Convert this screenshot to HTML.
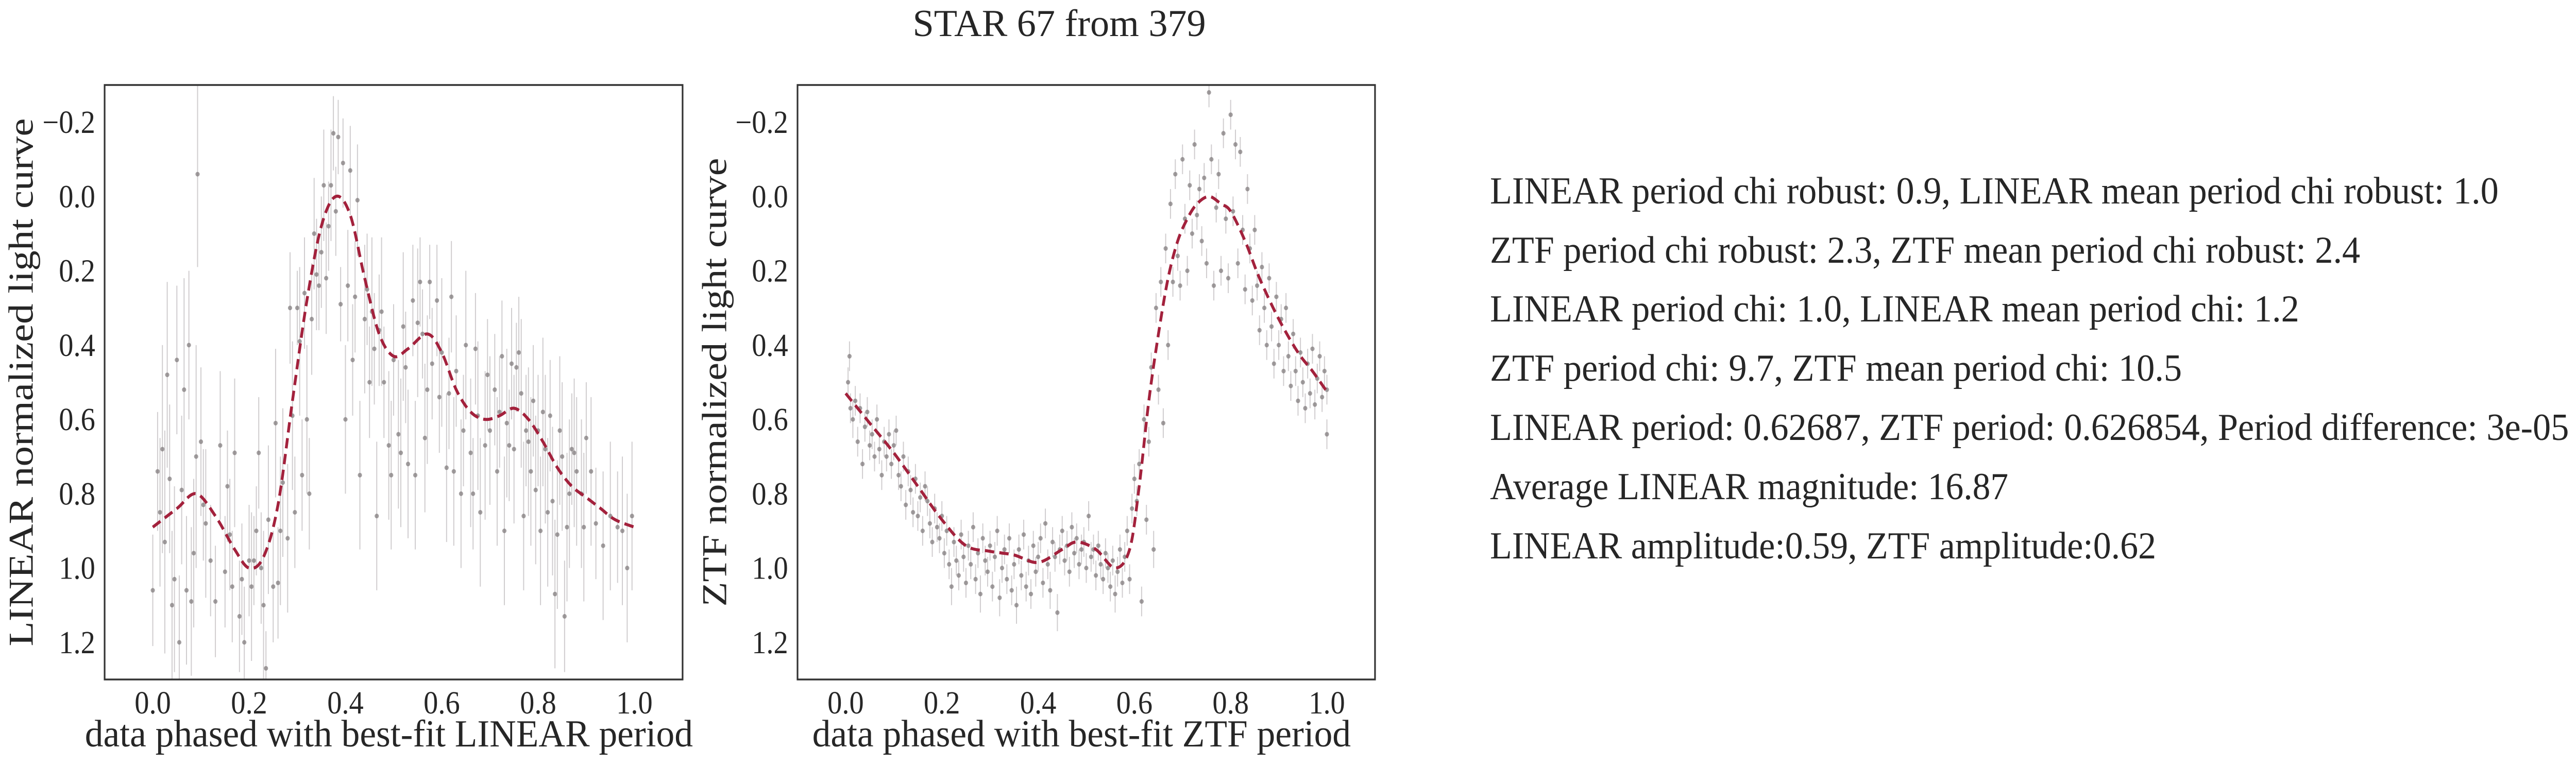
<!DOCTYPE html>
<html><head><meta charset="utf-8"><style>
html,body{margin:0;padding:0;background:#fff;overflow:hidden;width:100%;height:100%;}
svg{display:block;font-family:"Liberation Serif",serif;width:100vw;height:100vh;}
</style></head><body>
<svg id="fig" viewBox="0 0 5491 1485" preserveAspectRatio="none" xmlns="http://www.w3.org/2000/svg">
<rect width="5491" height="1485" fill="#fff"/>
<text x="2258" y="70" font-size="74" text-anchor="middle" fill="#262626" textLength="625" lengthAdjust="spacingAndGlyphs">STAR 67 from 379</text>
<g id="left"></g>
<g id="right"></g>
<g font-size="74" fill="#262626">
<text x="3176" y="395" textLength="2150" lengthAdjust="spacingAndGlyphs">LINEAR period chi robust: 0.9, LINEAR mean period chi robust: 1.0</text>
<text x="3176" y="510" textLength="1855" lengthAdjust="spacingAndGlyphs">ZTF period chi robust: 2.3, ZTF mean period chi robust: 2.4</text>
<text x="3176" y="624" textLength="1725" lengthAdjust="spacingAndGlyphs">LINEAR period chi: 1.0, LINEAR mean period chi: 1.2</text>
<text x="3176" y="739" textLength="1475" lengthAdjust="spacingAndGlyphs">ZTF period chi: 9.7, ZTF mean period chi: 10.5</text>
<text x="3176" y="854" textLength="2300" lengthAdjust="spacingAndGlyphs">LINEAR period: 0.62687, ZTF period: 0.626854, Period difference: 3e-05</text>
<text x="3176" y="969" textLength="1105" lengthAdjust="spacingAndGlyphs">Average LINEAR magnitude: 16.87</text>
<text x="3176" y="1084" textLength="1420" lengthAdjust="spacingAndGlyphs">LINEAR amplitude:0.59, ZTF amplitude:0.62</text>
</g>
</svg>
<script>
const xTicks = [0.0, 0.2, 0.4, 0.6, 0.8, 1.0];
const xTickLabels = ["0.0", "0.2", "0.4", "0.6", "0.8", "1.0"];
const yTicks = [-0.2, 0.0, 0.2, 0.4, 0.6, 0.8, 1.0, 1.2];
const yTickLabels = ["\u22120.2", "0.0", "0.2", "0.4", "0.6", "0.8", "1.0", "1.2"];

const linearModelPhase = [0.0,0.05,0.09,0.13,0.17,0.2,0.23,0.26,0.29,0.32,0.35,0.38,0.41,0.44,0.47,0.5,0.53,0.57,0.6,0.63,0.66,0.69,0.72,0.75,0.78,0.81,0.84,0.87,0.9,0.93,0.96,1.0];
const linearModelMag = [0.89,0.84,0.80,0.86,0.95,1.0,0.97,0.83,0.55,0.28,0.08,0.0,0.05,0.22,0.37,0.43,0.41,0.37,0.42,0.52,0.58,0.60,0.59,0.57,0.60,0.66,0.73,0.78,0.81,0.84,0.87,0.89];

const ztfModelPhase = [0.0,0.05,0.1,0.15,0.2,0.25,0.3,0.35,0.4,0.45,0.48,0.52,0.56,0.59,0.61,0.63,0.65,0.67,0.69,0.71,0.73,0.755,0.78,0.8,0.83,0.86,0.9,0.94,0.97,1.0];
const ztfModelMag = [0.53,0.61,0.69,0.78,0.87,0.94,0.955,0.965,0.985,0.95,0.93,0.95,1.0,0.95,0.78,0.55,0.37,0.22,0.12,0.06,0.02,0.0,0.02,0.04,0.12,0.22,0.33,0.42,0.47,0.525];

const linearPoints = [[0.00,1.06,0.15],[0.01,0.74,0.16],[0.015,0.85,0.2],[0.02,0.68,0.28],[0.025,0.93,0.3],[0.03,0.48,0.25],[0.035,0.76,0.2],[0.04,1.10,0.2],[0.045,1.03,0.25],[0.05,0.44,0.2],[0.055,1.20,0.18],[0.06,0.79,0.2],[0.065,0.52,0.3],[0.07,1.06,0.2],[0.075,0.40,0.2],[0.08,1.09,0.2],[0.085,0.96,0.2],[0.09,0.70,0.3],[0.093,-0.06,0.25],[0.1,0.66,0.2],[0.105,0.83,0.15],[0.11,0.88,0.2],[0.12,0.98,0.15],[0.13,1.09,0.15],[0.14,0.67,0.2],[0.15,1.01,0.15],[0.155,0.78,0.15],[0.16,0.91,0.15],[0.165,1.05,0.15],[0.17,0.69,0.2],[0.18,1.13,0.15],[0.185,1.03,0.15],[0.19,1.20,0.15],[0.2,0.98,0.15],[0.205,1.05,0.2],[0.21,0.98,0.12],[0.215,0.90,0.12],[0.22,0.69,0.15],[0.225,1.00,0.15],[0.23,1.10,0.2],[0.235,1.27,0.1],[0.24,0.87,0.2],[0.25,1.05,0.15],[0.255,0.61,0.2],[0.26,1.04,0.15],[0.265,0.90,0.2],[0.27,0.77,0.2],[0.28,0.92,0.2],[0.285,0.30,0.15],[0.29,0.59,0.2],[0.295,0.85,0.15],[0.3,0.30,0.1],[0.305,0.39,0.2],[0.31,0.75,0.15],[0.315,0.26,0.15],[0.32,0.60,0.2],[0.325,0.80,0.15],[0.33,0.33,0.15],[0.335,0.10,0.15],[0.34,0.21,0.15],[0.345,0.24,0.12],[0.35,0.15,0.15],[0.355,-0.03,0.15],[0.36,0.22,0.15],[0.365,0.08,0.12],[0.37,-0.03,0.15],[0.375,-0.17,0.1],[0.38,0.04,0.12],[0.385,-0.16,0.1],[0.39,0.29,0.1],[0.395,-0.09,0.12],[0.4,0.60,0.2],[0.405,0.24,0.15],[0.41,-0.07,0.12],[0.415,0.44,0.15],[0.42,0.27,0.15],[0.425,0.01,0.15],[0.43,0.75,0.2],[0.44,0.33,0.2],[0.445,0.25,0.15],[0.45,0.50,0.15],[0.455,0.31,0.2],[0.46,0.41,0.15],[0.465,0.86,0.2],[0.47,0.36,0.15],[0.475,0.31,0.2],[0.48,0.50,0.15],[0.49,0.67,0.2],[0.495,0.75,0.2],[0.5,0.44,0.15],[0.51,0.64,0.2],[0.515,0.69,0.2],[0.52,0.35,0.2],[0.525,0.46,0.15],[0.53,0.72,0.2],[0.54,0.28,0.15],[0.545,0.75,0.2],[0.55,0.34,0.2],[0.555,0.23,0.12],[0.56,0.37,0.12],[0.565,0.65,0.2],[0.57,0.52,0.2],[0.575,0.23,0.1],[0.58,0.45,0.15],[0.59,0.28,0.15],[0.595,0.54,0.15],[0.6,0.42,0.2],[0.61,0.73,0.2],[0.615,0.53,0.15],[0.62,0.27,0.15],[0.625,0.74,0.2],[0.63,0.47,0.15],[0.64,0.80,0.2],[0.645,0.63,0.15],[0.65,0.40,0.2],[0.66,0.69,0.2],[0.665,0.80,0.15],[0.67,0.41,0.15],[0.675,0.59,0.2],[0.68,0.85,0.2],[0.69,0.67,0.2],[0.695,0.48,0.15],[0.7,0.63,0.2],[0.71,0.52,0.15],[0.715,0.74,0.2],[0.72,0.58,0.15],[0.725,0.43,0.15],[0.73,0.90,0.2],[0.735,0.61,0.2],[0.74,0.67,0.15],[0.745,0.45,0.15],[0.75,0.68,0.2],[0.755,0.46,0.12],[0.76,0.42,0.15],[0.765,0.53,0.2],[0.77,0.86,0.2],[0.775,0.63,0.15],[0.78,0.66,0.2],[0.785,0.74,0.2],[0.79,0.55,0.15],[0.795,0.79,0.2],[0.8,0.63,0.15],[0.805,0.90,0.2],[0.81,0.58,0.2],[0.815,0.68,0.2],[0.82,0.85,0.2],[0.825,0.59,0.15],[0.83,0.82,0.2],[0.835,1.07,0.2],[0.84,0.91,0.2],[0.845,0.63,0.2],[0.85,0.70,0.2],[0.855,1.13,0.15],[0.86,0.89,0.2],[0.865,0.80,0.2],[0.87,0.68,0.15],[0.875,0.69,0.2],[0.88,0.74,0.2],[0.89,0.80,0.2],[0.895,0.89,0.2],[0.9,0.65,0.15],[0.91,0.74,0.2],[0.92,0.88,0.15],[0.935,0.94,0.2],[0.95,0.86,0.2],[0.965,0.89,0.15],[0.975,0.90,0.2],[0.985,1.00,0.2],[0.995,0.86,0.2]];

const ztfPoints = [[0.005,0.50,.04],[0.008,0.43,.04],[0.01,0.57,.04],[0.015,0.60,.05],[0.02,0.55,.04],[0.025,0.66,.04],[0.03,0.57,.04],[0.035,0.72,.04],[0.04,0.62,.04],[0.045,0.58,.04],[0.05,0.67,.04],[0.055,0.64,.04],[0.06,0.70,.04],[0.065,0.60,.04],[0.07,0.68,.04],[0.075,0.75,.04],[0.08,0.66,.04],[0.085,0.70,.04],[0.09,0.64,.04],[0.095,0.72,.04],[0.1,0.67,.04],[0.105,0.63,.04],[0.11,0.75,.04],[0.115,0.78,.04],[0.12,0.70,.04],[0.125,0.83,.04],[0.13,0.74,.04],[0.135,0.79,.04],[0.14,0.85,.04],[0.145,0.76,.04],[0.15,0.86,.04],[0.155,0.81,.04],[0.16,0.90,.04],[0.165,0.78,.04],[0.17,0.82,.04],[0.175,0.88,.04],[0.18,0.93,.04],[0.185,0.84,.04],[0.19,0.89,.04],[0.195,0.92,.04],[0.2,0.86,.04],[0.205,0.96,.04],[0.21,0.90,.04],[0.215,0.99,.04],[0.22,1.05,.05],[0.225,0.93,.04],[0.23,0.98,.04],[0.235,1.02,.04],[0.24,0.91,.04],[0.245,0.97,.04],[0.25,1.04,.04],[0.255,0.94,.04],[0.26,0.99,.04],[0.265,0.89,.04],[0.27,1.03,.04],[0.275,0.96,.04],[0.28,1.07,.05],[0.285,0.92,.04],[0.29,0.98,.04],[0.295,1.01,.04],[0.3,0.94,.04],[0.305,1.05,.04],[0.31,0.97,.04],[0.315,0.90,.04],[0.32,1.08,.05],[0.325,1.00,.04],[0.33,0.95,.04],[0.335,1.03,.04],[0.34,0.92,.04],[0.345,1.06,.04],[0.35,0.99,.04],[0.355,1.10,.05],[0.36,0.95,.04],[0.365,1.02,.04],[0.37,0.91,.04],[0.375,1.05,.04],[0.38,0.98,.04],[0.385,1.07,.04],[0.39,0.94,.04],[0.395,1.01,.04],[0.4,0.97,.04],[0.405,0.92,.04],[0.41,1.04,.04],[0.415,0.88,.04],[0.42,0.99,.04],[0.425,1.06,.05],[0.43,0.93,.04],[0.435,0.97,.04],[0.44,1.12,.05],[0.445,0.95,.04],[0.45,0.90,.04],[0.455,0.98,.04],[0.46,0.94,.04],[0.465,1.01,.04],[0.47,0.89,.04],[0.475,0.96,.04],[0.48,0.92,.04],[0.485,0.99,.04],[0.49,0.95,.04],[0.495,0.93,.04],[0.5,1.00,.04],[0.505,0.86,.04],[0.51,0.97,.04],[0.515,0.95,.04],[0.52,1.02,.04],[0.525,0.94,.04],[0.53,0.99,.04],[0.535,1.03,.04],[0.54,0.96,.04],[0.545,1.00,.04],[0.55,1.05,.04],[0.555,0.98,.04],[0.56,1.07,.05],[0.565,1.01,.04],[0.57,0.95,.04],[0.575,1.04,.04],[0.58,0.97,.04],[0.585,0.90,.04],[0.59,1.03,.04],[0.595,0.84,.04],[0.6,0.76,.04],[0.605,0.82,.04],[0.61,0.72,.04],[0.615,1.09,.04],[0.62,0.60,.04],[0.625,0.87,.04],[0.63,0.66,.04],[0.635,0.46,.04],[0.64,0.95,.05],[0.645,0.30,.04],[0.65,0.52,.04],[0.655,0.23,.04],[0.66,0.61,.04],[0.665,0.14,.04],[0.67,0.40,.04],[0.675,0.02,.04],[0.68,0.23,.04],[0.685,-0.06,.04],[0.69,0.16,.04],[0.695,0.24,.04],[0.7,-0.10,.04],[0.705,0.06,.04],[0.71,0.20,.04],[0.715,-0.03,.04],[0.72,0.10,.04],[0.725,-0.14,.04],[0.73,0.05,.04],[0.735,-0.02,.04],[0.74,0.12,.04],[0.745,-0.05,.04],[0.75,0.18,.04],[0.755,-0.28,.04],[0.76,-0.10,.04],[0.765,0.24,.04],[0.77,0.03,.04],[0.775,-0.06,.04],[0.78,0.20,.04],[0.785,-0.17,.04],[0.79,0.06,.04],[0.795,0.22,.04],[0.8,-0.22,.04],[0.805,0.04,.04],[0.81,-0.14,.04],[0.815,0.18,.04],[0.82,-0.12,.04],[0.825,0.09,.04],[0.83,0.25,.04],[0.835,-0.02,.04],[0.84,0.14,.04],[0.845,0.28,.04],[0.85,0.09,.04],[0.855,0.24,.04],[0.86,0.36,.04],[0.865,0.19,.04],[0.87,0.30,.04],[0.875,0.40,.04],[0.88,0.22,.04],[0.885,0.35,.04],[0.89,0.45,.04],[0.895,0.27,.04],[0.9,0.40,.04],[0.905,0.33,.04],[0.91,0.47,.04],[0.915,0.30,.04],[0.92,0.43,.04],[0.925,0.51,.04],[0.93,0.37,.04],[0.935,0.47,.04],[0.94,0.55,.04],[0.945,0.42,.04],[0.95,0.50,.04],[0.955,0.57,.04],[0.96,0.45,.04],[0.965,0.53,.04],[0.97,0.41,.04],[0.975,0.56,.04],[0.98,0.49,.04],[0.985,0.43,.04],[0.99,0.54,.04],[0.995,0.47,.04],[1.0,0.52,.04],[1.0,0.64,.04]];

const NS = "http://www.w3.org/2000/svg";
function mk(tag, attrs, parent) {
  const e = document.createElementNS(NS, tag);
  for (const k in attrs) e.setAttribute(k, attrs[k]);
  parent.appendChild(e);
  return e;
}
function smoothPath(pts) {
  let d = "M" + pts[0][0] + "," + pts[0][1];
  for (let i = 0; i < pts.length - 1; i++) {
    const p0 = pts[Math.max(0, i - 1)], p1 = pts[i], p2 = pts[i + 1], p3 = pts[Math.min(pts.length - 1, i + 2)];
    const c1x = p1[0] + (p2[0] - p0[0]) / 6, c1y = p1[1] + (p2[1] - p0[1]) / 6;
    const c2x = p2[0] - (p3[0] - p1[0]) / 6, c2y = p2[1] - (p3[1] - p1[1]) / 6;
    d += " C" + c1x + "," + c1y + " " + c2x + "," + c2y + " " + p2[0] + "," + p2[1];
  }
  return d;
}
function panel(gid, box, xlabel, xlabelLen, ylabel, ylabelX, ylabelLen, points, mPhase, mMag, prefix) {
  const g = document.getElementById(gid);
  const x0 = box.l, x1 = box.r, y0 = box.t, y1 = box.b;
  const xs = v => x0 + (v + 0.1) / 1.2 * (x1 - x0);
  const ys = v => y0 + (v + 0.3) / 1.6 * (y1 - y0);
  const clip = mk("clipPath", {id: gid + "-clip"}, g);
  mk("rect", {x: x0, y: y0, width: x1 - x0, height: y1 - y0}, clip);
  const data = mk("g", {"clip-path": "url(#" + gid + "-clip)"}, g);
  
  
  points.forEach(p => {
    const x = xs(p[0]);
    const eb = mk("line", {x1: x, x2: x, y1: ys(p[1] - p[2]), y2: ys(p[1] + p[2]), stroke: "#bdb9bb", "stroke-width": 2.2, opacity: 0.7}, data);
    
    
    const c = mk("circle", {cx: x, cy: ys(p[1]), r: 4.5, fill: "#7a7576", opacity: 0.7}, data);
    
    
  });
  const mp = mPhase.map((p, i) => [xs(p), ys(mMag[i])]);
  const path = mk("path", {d: smoothPath(mp), fill: "none", stroke: "#a3213c", "stroke-width": 6, "stroke-dasharray": "20 11"}, data);
  
  
  const frame = mk("rect", {x: x0, y: y0, width: x1 - x0, height: y1 - y0, fill: "none", stroke: "#333", "stroke-width": 3.5}, g);
  
  
  xTicks.forEach((t, i) => {
    const tx = mk("text", {x: xs(t), y: y1 + 66, "font-size": 62, "text-anchor": "middle", fill: "#262626"}, g);
    tx.textContent = xTickLabels[i];
    
    
  });
  yTicks.forEach((t, i) => {
    const ty = mk("text", {x: x0 - 20, y: ys(t) + 21, "font-size": 62, "text-anchor": "end", fill: "#262626"}, g);
    ty.textContent = yTickLabels[i];
    
    
  });
  const xl = mk("text", {x: (x0 + x1) / 2 - 10, y: 1449, "font-size": 74, "text-anchor": "middle", fill: "#262626", textLength: xlabelLen, lengthAdjust: "spacingAndGlyphs"}, g);
  xl.textContent = xlabel;
  
  
  const cy = (y0 + y1) / 2;
  const yl = mk("text", {x: ylabelX, y: cy, "font-size": 74, "text-anchor": "middle", fill: "#262626", transform: "rotate(-90 " + ylabelX + " " + cy + ")", textLength: ylabelLen, lengthAdjust: "spacingAndGlyphs"}, g);
  yl.textContent = ylabel;
  
  
}
panel("left", {l: 223, r: 1455, t: 165, b: 1319}, "data phased with best-fit LINEAR period", 1296, "LINEAR normalized light curve", 70, 1025, linearPoints, linearModelPhase, linearModelMag, "linear");
panel("right", {l: 1700, r: 2931, t: 165, b: 1319}, "data phased with best-fit ZTF period", 1148, "ZTF normalized light curve", 1548, 871, ztfPoints, ztfModelPhase, ztfModelMag, "ztf");
</script>
</body></html>
